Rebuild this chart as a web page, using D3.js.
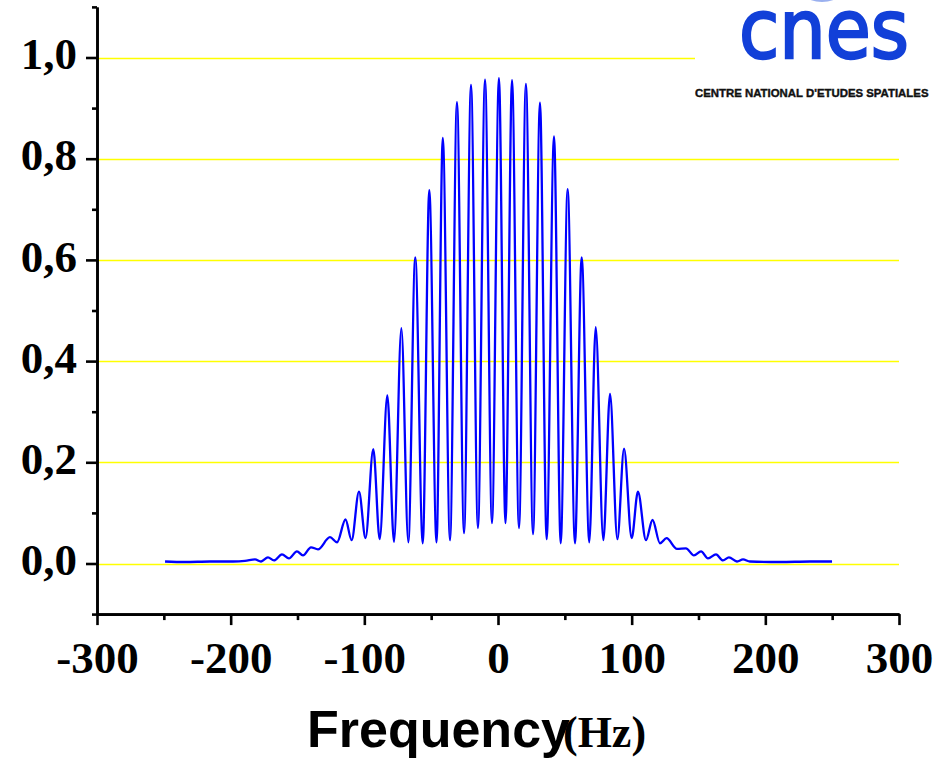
<!DOCTYPE html>
<html>
<head>
<meta charset="utf-8">
<script src="https://cdn.jsdelivr.net/npm/d3@7"></script>
<style>
  html, body { margin: 0; padding: 0; background: #ffffff; }
  svg { display: block; }
</style>
</head>
<body>
<svg id="chart" width="939" height="761"></svg>
<script>
// ---- Data ----
const freqHz = [
  -249.1, -234.2, -215.5, -198.3, -189.3, -181.8, -177.3, -172.1, -167.6, -161.6,
  -156.4, -150.4, -145.9, -139.9, -134.7, -125.7, -120.4, -114.1, -109.5, -104.0,
  -99.1, -93.3, -88.5, -82.8, -77.8, -72.3, -67.1, -61.9, -56.3, -51.4,
  -46.0, -41.3, -35.9, -30.7, -25.4, -20.2, -15.0, -9.7, -4.5, 0.7,
  5.6, 10.5, 15.7, 20.9, 26.2, 31.4, 36.4, 41.9, 46.9, 52.1,
  57.6, 62.6, 68.3, 73.1, 78.8, 83.8, 89.3, 94.3, 100.0, 104.7,
  110.7, 115.6, 121.2, 126.1, 133.9, 140.6, 146.6, 151.9, 157.1, 163.1,
  168.3, 172.8, 178.8, 183.3, 188.5, 211.0, 233.4, 249.9
];
const amplitude = [
  0.004, 0.003, 0.004, 0.004, 0.005, 0.008, 0.004, 0.012, 0.006, 0.018,
  0.010, 0.024, 0.016, 0.032, 0.028, 0.052, 0.042, 0.087, 0.046, 0.142,
  0.050, 0.226, 0.048, 0.332, 0.043, 0.465, 0.042, 0.605, 0.040, 0.738,
  0.042, 0.841, 0.046, 0.912, 0.060, 0.946, 0.070, 0.956, 0.080, 0.959,
  0.080, 0.955, 0.070, 0.948, 0.058, 0.911, 0.048, 0.844, 0.040, 0.740,
  0.040, 0.605, 0.042, 0.467, 0.046, 0.335, 0.048, 0.227, 0.050, 0.142,
  0.046, 0.086, 0.040, 0.050, 0.029, 0.030, 0.016, 0.024, 0.010, 0.018,
  0.006, 0.012, 0.004, 0.008, 0.004, 0.003, 0.004, 0.004
];
const yMajorTicks = [0, 0.2, 0.4, 0.6, 0.8, 1.0];
const yTickLabels = ["0,0", "0,2", "0,4", "0,6", "0,8", "1,0"];
const yMinorTicks = [-0.1, 0.1, 0.3, 0.5, 0.7, 0.9, 1.1];
const xMajorTicks = [-300, -200, -100, 0, 100, 200, 300];
const xTickLabels = ["-300", "-200", "-100", "0", "100", "200", "300"];
const xMinorTicks = [-250, -150, -50, 50, 150, 250];
const xTitle = "Frequency";
const xUnit = "(Hz)";
const logoWord = "cnes";
const logoSubtitle = "CENTRE NATIONAL D'ETUDES SPATIALES";

// ---- Layout ----
const svg = d3.select("#chart");
svg.append("rect").attr("width", 939).attr("height", 761).attr("fill", "#ffffff");

const x = d3.scaleLinear().domain([-300, 300]).range([97, 899]);
const y = d3.scaleLinear().domain([-0.1, 1.1]).range([614.1, 6.9]);

const serif = "'Liberation Serif', 'Times New Roman', serif";
const sans = "'Liberation Sans', Arial, sans-serif";

// gridlines
svg.append("g").selectAll("line").data(yMajorTicks).join("line")
  .attr("x1", x(-300)).attr("x2", x(300))
  .attr("y1", d => Math.round(y(d)) + 0.5).attr("y2", d => Math.round(y(d)) + 0.5)
  .attr("stroke", "#ffff00").attr("stroke-width", 1.5);

// curve
const line = d3.line()
  .x((d, i) => x(freqHz[i]))
  .y((d, i) => y(amplitude[i]))
  .curve(d3.curveMonotoneX);
svg.append("path")
  .attr("d", line(freqHz))
  .attr("fill", "none")
  .attr("stroke", "#0000ff")
  .attr("stroke-width", 2.3)
  .attr("stroke-linejoin", "round");

// axes
function styleAxis(g) {
  g.select(".domain").attr("stroke", "#000").attr("stroke-width", 2.6);
  g.selectAll(".tick line").attr("stroke", "#000").attr("stroke-width", 2.6);
}
const yMinor = svg.append("g").attr("transform", `translate(${x(-300)},0)`)
  .call(d3.axisLeft(y).tickValues(yMinorTicks).tickSize(5).tickSizeOuter(0).tickFormat(""));
styleAxis(yMinor);
const yMajor = svg.append("g").attr("transform", `translate(${x(-300)},0)`)
  .call(d3.axisLeft(y).tickValues(yMajorTicks).tickSize(11).tickSizeOuter(0).tickPadding(9)
    .tickFormat((d, i) => yTickLabels[i]));
styleAxis(yMajor);
yMajor.selectAll("text")
  .attr("font-family", serif).attr("font-weight", "bold").attr("font-size", 45)
  .attr("fill", "#000").attr("dy", "0.25em");

const xMinor = svg.append("g").attr("transform", `translate(0,${y(-0.1)})`)
  .call(d3.axisBottom(x).tickValues(xMinorTicks).tickSize(6).tickSizeOuter(0).tickFormat(""));
styleAxis(xMinor);
const xMajor = svg.append("g").attr("transform", `translate(0,${y(-0.1)})`)
  .call(d3.axisBottom(x).tickValues(xMajorTicks).tickSize(11).tickSizeOuter(0).tickPadding(16)
    .tickFormat((d, i) => xTickLabels[i]));
styleAxis(xMajor);
xMajor.selectAll("text")
  .attr("font-family", serif).attr("font-weight", "bold").attr("font-size", 45)
  .attr("fill", "#000");

// x title
const title = svg.append("text").attr("y", 747).attr("fill", "#000");
title.append("tspan").attr("x", 307)
  .attr("font-family", sans).attr("font-weight", "bold").attr("font-size", 52)
  .text(xTitle);
title.append("tspan").attr("dx", -7)
  .attr("font-family", serif).attr("font-weight", "bold").attr("font-size", 44)
  .text(xUnit);

// logo
svg.append("rect").attr("x", 695).attr("y", 0).attr("width", 244).attr("height", 104).attr("fill", "#ffffff");
svg.append("ellipse").attr("cx", 822).attr("cy", -4).attr("rx", 15).attr("ry", 6)
  .attr("fill", "#6f8fe8").attr("opacity", 0.7);
svg.append("text").attr("x", 739).attr("y", 58)
  .attr("font-family", "'DejaVu Sans', sans-serif").attr("font-weight", "normal").attr("font-size", 82)
  .attr("fill", "#1240d8").attr("stroke", "#1240d8").attr("stroke-width", 2.4)
  .attr("textLength", 170).attr("lengthAdjust", "spacingAndGlyphs")
  .text(logoWord);
svg.append("text").attr("x", 695).attr("y", 97)
  .attr("font-family", sans).attr("font-weight", "bold").attr("font-size", 11.4)
  .attr("fill", "#111").attr("stroke", "#111").attr("stroke-width", 0.4)
  .text(logoSubtitle);
</script>
</body>
</html>
